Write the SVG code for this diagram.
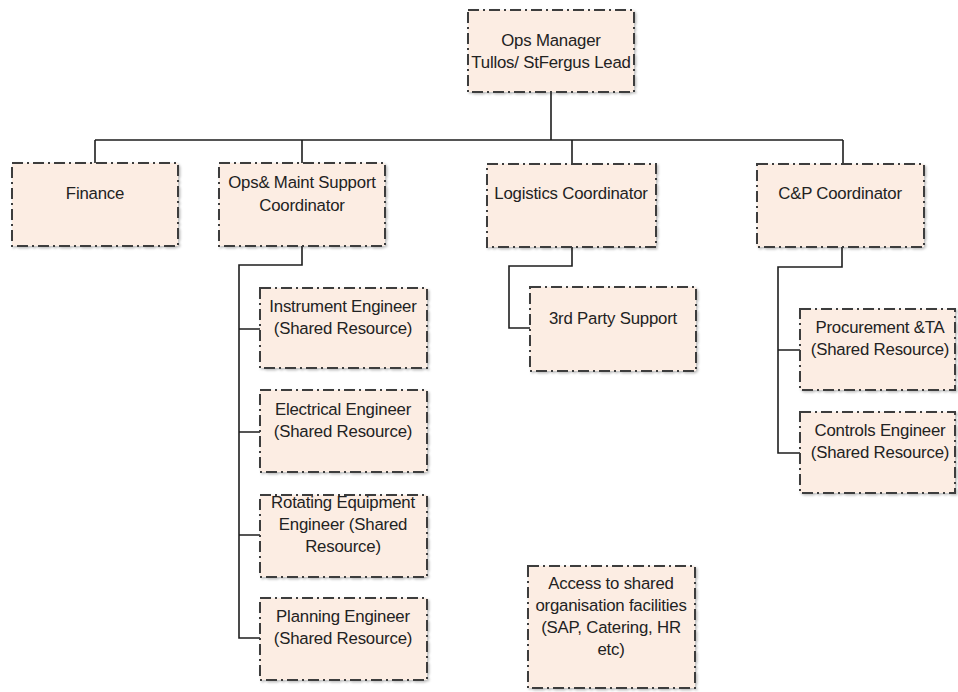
<svg xmlns="http://www.w3.org/2000/svg" width="958" height="692" viewBox="0 0 958 692">
  <defs>
    <filter id="shade" x="-5%" y="-5%" width="115%" height="115%">
      <feDropShadow dx="1.5" dy="1.5" stdDeviation="1.2" flood-color="#000" flood-opacity="0.25"/>
    </filter>
  </defs>
  <style>
    .box { fill: #fcede3; stroke: #3c3c3c; stroke-width: 2; stroke-dasharray: 11 4 2 4; filter: url(#shade); }
    .lbl { font-family: "Liberation Sans", Arial, sans-serif; font-size: 16.8px; fill: #222; text-anchor: middle; letter-spacing: -0.2px; }
    .wire { fill: none; stroke: #1e1e1e; stroke-width: 1.6; }
  </style>
  <rect width="958" height="692" fill="#ffffff"/>

  <!-- connectors -->
  <g id="connectors" class="wire">
    <path d="M551 92 V140 M95 140 H843 M95 140 V163 M302 140 V163 M572 140 V164 M843 140 V164"/>
    <path d="M302 246 V265 H239 V638 H260 M239 329 H260 M239 432 H260 M239 535 H260"/>
    <path d="M572 247 V266 H509 V328 H530"/>
    <path d="M842 247 V267 H778 V453 H800 M778 350 H800"/>
  </g>

  <g id="ops-manager">
    <rect class="box" x="468" y="10" width="166" height="82"/>
    <text class="lbl" x="551" y="46">Ops Manager</text>
    <text class="lbl" x="551" y="68">Tullos/ StFergus Lead</text>
  </g>
  <g id="finance">
    <rect class="box" x="12" y="163" width="166" height="83"/>
    <text class="lbl" x="95" y="199">Finance</text>
  </g>
  <g id="ops-maint">
    <rect class="box" x="219" y="163" width="166" height="83"/>
    <text class="lbl" x="302" y="188">Ops&amp; Maint Support</text>
    <text class="lbl" x="302" y="211">Coordinator</text>
  </g>
  <g id="logistics">
    <rect class="box" x="487" y="164" width="169" height="83"/>
    <text class="lbl" x="571" y="199">Logistics Coordinator</text>
  </g>
  <g id="cp">
    <rect class="box" x="757" y="164" width="167" height="83"/>
    <text class="lbl" x="840" y="199">C&amp;P Coordinator</text>
  </g>
  <g id="third-party">
    <rect class="box" x="530" y="287" width="166" height="84"/>
    <text class="lbl" x="613" y="324">3rd Party Support</text>
  </g>
  <g id="instrument">
    <rect class="box" x="260" y="288" width="167" height="80"/>
    <text class="lbl" x="343" y="312">Instrument Engineer</text>
    <text class="lbl" x="343" y="334">(Shared Resource)</text>
  </g>
  <g id="electrical">
    <rect class="box" x="260" y="390" width="167" height="82"/>
    <text class="lbl" x="343" y="415">Electrical Engineer</text>
    <text class="lbl" x="343" y="437">(Shared Resource)</text>
  </g>
  <g id="rotating">
    <rect class="box" x="260" y="495" width="167" height="82"/>
    <text class="lbl" x="343" y="508">Rotating Equipment</text>
    <text class="lbl" x="343" y="530">Engineer (Shared</text>
    <text class="lbl" x="343" y="552">Resource)</text>
  </g>
  <g id="planning">
    <rect class="box" x="260" y="598" width="167" height="82"/>
    <text class="lbl" x="343" y="622">Planning Engineer</text>
    <text class="lbl" x="343" y="644">(Shared Resource)</text>
  </g>
  <g id="procurement">
    <rect class="box" x="800" y="309" width="155" height="81"/>
    <text class="lbl" x="880" y="333">Procurement &amp;TA</text>
    <text class="lbl" x="880" y="355">(Shared Resource)</text>
  </g>
  <g id="controls">
    <rect class="box" x="800" y="412" width="155" height="81"/>
    <text class="lbl" x="880" y="436">Controls Engineer</text>
    <text class="lbl" x="880" y="458">(Shared Resource)</text>
  </g>
  <g id="shared-facilities">
    <rect class="box" x="528" y="566" width="167" height="122"/>
    <text class="lbl" x="611" y="589">Access to shared</text>
    <text class="lbl" x="611" y="611">organisation facilities</text>
    <text class="lbl" x="611" y="633">(SAP, Catering, HR</text>
    <text class="lbl" x="611" y="655">etc)</text>
  </g>
</svg>
